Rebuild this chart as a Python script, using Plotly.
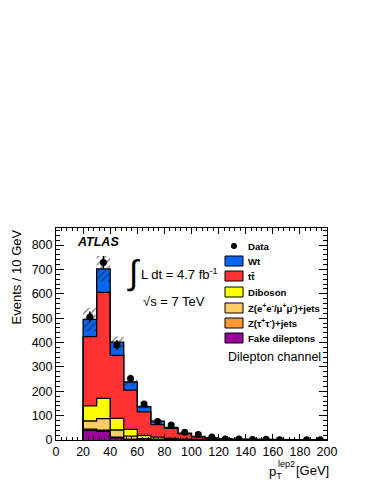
import numpy as np
import plotly.graph_objects as go

# bins of p_T^lep2, 10 GeV wide from 20 to 200
bin_edges = list(range(20, 201, 10))
bin_centers = [e + 5 for e in bin_edges[:-1]]

# stacked backgrounds (events / 10 GeV), bottom of the stack first
fake = [40, 35, 9, 1, 0.5, 0.5, 0.3, 0.2, 0, 0, 0, 0, 0, 0, 0, 0, 0, 0]
ztautau = [5, 5, 3, 2, 1, 1, 0.5, 0.3, 0.2, 0, 0, 0, 0, 0, 0, 0, 0, 0]
zll = [33, 48, 29, 13, 4, 2, 1, 0.5, 0.3, 0.2, 0.1, 0, 0, 0, 0, 0, 0, 0]
diboson = [62, 83, 48, 28, 13, 8, 5, 3, 2, 1, 0.5, 0.3, 0.2, 0.1, 0.1, 0, 0, 0]
ttbar = [284, 435, 258, 161, 97, 52, 41, 21, 10.5, 6, 3.5, 2.2, 1.8, 1.4, 0.9, 0.8, 0.6, 0.5]
wt = [71, 96, 55, 33, 21, 14, 4, 3, 2, 1.2, 0.8, 0.5, 0.4, 0.3, 0.2, 0.2, 0.1, 0.1]
syst = [48, 53, 23, 14, 7, 5, 3, 2, 1.5, 1, 0.6, 0.4, 0.3, 0.2, 0.2, 0.1, 0.1, 0.1]

data = [505, 728, 390, 252, 148, 76, 62, 32, 23, 12, 4, 4, 2, 3, 1, None, 1, 1]
data_err = [22, 27, 20, 16, 12, 9, 8, 6, 5, 3.5, 2, 2, 1.4, 1.7, 1, 0, 1, 1]

names = ["Fake dileptons", "Z(\u03c4<sup>+</sup>\u03c4<sup>-</sup>)+jets",
         "Z(e<sup>+</sup>e<sup>-</sup>/\u03bc<sup>+</sup>\u03bc<sup>-</sup>)+jets",
         "Diboson", "tt\u0304", "Wt"]
colors = ["#990099", "#ff9933", "#ffcc66", "#ffff00", "#ff3333", "#0a64f0"]
components = [fake, ztautau, zll, diboson, ttbar, wt]

FONT = "Liberation Sans, Arial, Helvetica, sans-serif"


def step(values):
    xs, ys = [bin_edges[0]], [0]
    for i, v in enumerate(values):
        xs += [bin_edges[i], bin_edges[i + 1]]
        ys += [v, v]
    xs.append(bin_edges[-1])
    ys.append(0)
    return xs, ys


fig = go.Figure()

cum = np.zeros(len(bin_centers))
for i, comp in enumerate(components):
    cum = cum + np.array(comp, dtype=float)
    xs, ys = step(cum)
    fig.add_trace(go.Scatter(
        x=xs, y=ys, mode="lines",
        line=dict(color="black", width=1.3),
        fill="tozeroy" if i == 0 else "tonexty",
        fillcolor=colors[i], showlegend=False, hoverinfo="skip"))
total = cum

# hatched uncertainty band around the total
bx, by = [], []
for i in range(len(bin_centers)):
    bx += [bin_edges[i], bin_edges[i + 1]]
    by += [total[i] + syst[i]] * 2
for i in reversed(range(len(bin_centers))):
    bx += [bin_edges[i + 1], bin_edges[i]]
    by += [total[i] - syst[i]] * 2
fig.add_trace(go.Scatter(
    x=bx, y=by, mode="lines", fill="toself", line=dict(width=0),
    fillcolor="rgba(0,0,0,0)",
    fillpattern=dict(shape="/", fgcolor="#1a1a1a", size=5, solidity=0.3,
                     fillmode="overlay"),
    showlegend=False, hoverinfo="skip"))

# data points
fig.add_trace(go.Scatter(
    x=bin_centers, y=data, mode="markers",
    marker=dict(color="black", size=7),
    error_y=dict(type="data", array=data_err, visible=True, color="black",
                 thickness=1.5, width=0),
    showlegend=False))


# page pixel -> paper helpers (plot area 56..327 x 228..440 on the page)
def xp(px):
    return (px - 56) / 271


def yp(py):
    return (440 - py) / 212


def text(px, py, s, size=13, anchor="left", **kw):
    fig.add_annotation(x=xp(px), y=yp(py), xref="paper", yref="paper",
                       text=s, showarrow=False, xanchor=anchor, yanchor="middle",
                       font=dict(family=FONT, size=size, color="black"), **kw)


# legend
fig.add_shape(type="circle", xref="paper", yref="paper",
              x0=xp(231), x1=xp(237), y0=yp(249), y1=yp(243),
              fillcolor="black", line=dict(width=0))
text(246, 246, "<b>Data</b>", size=9.6)
row_y = [338, 323, 308, 292, 276, 261]
for name, col, ry in zip(names, colors, row_y):
    fig.add_shape(type="rect", xref="paper", yref="paper",
                  x0=xp(225), x1=xp(243), y0=yp(ry + 5), y1=yp(ry - 5),
                  fillcolor=col, line=dict(color="black", width=1))
    text(246, ry, "<b>" + name + "</b>", size=9.6)
text(226, 357, "Dilepton channel", size=12.5)

# labels
text(75, 242, "<b><i>ATLAS</i></b>", size=12.5)
text(125, 272, "\u222b", size=34)
text(139, 274, "L dt = 4.7 fb<sup>-1</sup>", size=13)
text(141, 301, "\u221as = 7 TeV", size=13)

# axis titles
fig.add_annotation(x=xp(16), y=1.0, xref="paper", yref="paper",
                   text="Events / 10 GeV", textangle=-90, showarrow=False,
                   xanchor="center", yanchor="top",
                   font=dict(family=FONT, size=13, color="black"))
text(267, 472, "p<sub>T</sub>", size=13)
text(276, 464, "lep2", size=9)
text(294, 470, "[GeV]", size=13)

axis_common = dict(showline=True, linecolor="black", linewidth=1, mirror="ticks",
                   ticks="inside", tickcolor="black", tickwidth=1,
                   showgrid=False, zeroline=False,
                   tickfont=dict(family=FONT, size=12.5, color="black"))
fig.update_xaxes(range=[0, 200], tick0=0, dtick=20, ticklen=6,
                 minor=dict(ticks="inside", ticklen=3, dtick=4, tickcolor="black"),
                 **axis_common)
fig.update_yaxes(range=[0, 870], tick0=0, dtick=100, ticklen=8,
                 minor=dict(ticks="inside", ticklen=4, dtick=20, tickcolor="black"),
                 **axis_common)

# the page body adds an 8px margin, so the figure is 8px smaller
fig.update_layout(
    width=366, height=476, autosize=False,
    margin=dict(l=48, r=47, t=220, b=44),
    plot_bgcolor="white", paper_bgcolor="white",
    showlegend=False,
)

fig.write_html("out.html")
